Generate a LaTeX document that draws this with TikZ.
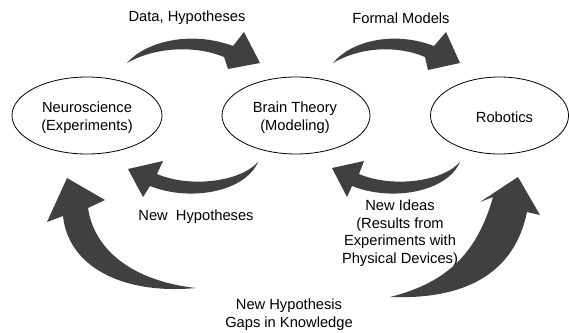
\documentclass[tikz,border=0pt]{standalone}
\usepackage{fontspec}
\setmainfont{Liberation Sans}
\usetikzlibrary{shapes.geometric}
\definecolor{arrowgray}{HTML}{404040}
\begin{document}
\begin{tikzpicture}[x=1pt,y=-1pt,
  ell/.style={draw=black,line width=0.8pt,ellipse,inner sep=0pt,minimum height=77pt},
  lbl/.style={align=center,font=\fontsize{14.7}{17.5}\selectfont,inner sep=0pt},
  blockarrow/.style={fill=arrowgray,draw=none}]
\useasboundingbox (0,0) rectangle (569,332);
% ellipses
\node[ell,minimum width=150pt] (neuro) at (87,115.5) {};
\node[ell,minimum width=148pt] (brain) at (296,115.5) {};
\node[ell,minimum width=138pt] (robot) at (499.5,115.5) {};
\node[lbl] (neurot) at (87,117.5) {Neuroscience\\(Experiments)};
\node[lbl] (braint) at (295,117.5) {Brain Theory\\(Modeling)};
\node[lbl] (robott) at (504.5,117) {Robotics};
% labels
\node[lbl] (l1) at (187,18) {Data, Hypotheses};
\node[lbl] (l2) at (401,18) {Formal Models};
\node[lbl] (l3) at (196,217) {New\ \ Hypotheses};
\node[lbl] (l4) at (400,233) {New Ideas\\(Results from\\Experiments with\\Physical Devices)};
\node[lbl] (l5) at (289,314.5) {New Hypothesis\\Gaps in Knowledge};
% top-left arrow
\fill[blockarrow] (127,63) .. controls (145,42) and (190,30) .. (233,46)
  -- (244,32) -- (260,63) -- (228,69) -- (224,57)
  .. controls (195,45) and (155,47) .. (127,63) -- cycle;
% top-right arrow
\fill[blockarrow] (333,63) .. controls (350,42) and (392,30) .. (434,46)
  -- (446,32) -- (460,63) -- (428,70) -- (425,57)
  .. controls (397,45) and (360,47) .. (333,63) -- cycle;
% middle-left arrow (pointing left)
\fill[blockarrow] (258,162) .. controls (240,182) and (190,188) .. (157,174)
  -- (163,161) -- (128,169) -- (143,197) -- (150,186)
  .. controls (190,202) and (245,192) .. (258,162) -- cycle;
% middle-right arrow (pointing left)
\fill[blockarrow] (460,162) .. controls (442,182) and (392,188) .. (359,174)
  -- (364,161) -- (332,168) -- (347,197) -- (352,186)
  .. controls (392,202) and (447,192) .. (460,162) -- cycle;
% bottom-left big arrow
\fill[blockarrow] (196,288) .. controls (140,282) and (95,255) .. (88,208)
  -- (105,200) -- (67,178) -- (47,222) -- (63,216)
  .. controls (68,265) and (120,295) .. (196,288) -- cycle;
% bottom-right big arrow
\fill[blockarrow] (390,297) .. controls (450,282) and (478,250) .. (493,197)
  -- (480,202) -- (518,177) -- (540,215) -- (527,212)
  .. controls (515,270) and (470,300) .. (390,297) -- cycle;
\end{tikzpicture}
\end{document}
